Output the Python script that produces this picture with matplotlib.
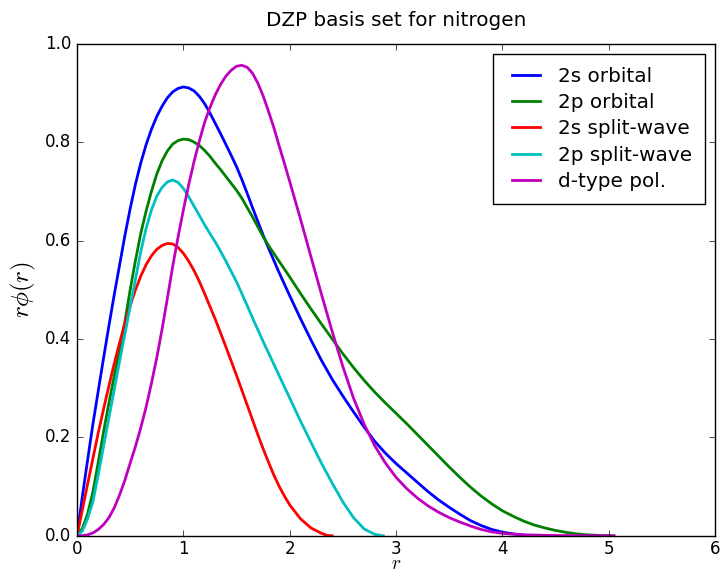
import numpy as np
import matplotlib
matplotlib.use('Agg')
import matplotlib.pyplot as plt

# values (r, r*phi(r))
r_2s = [0.0, 0.05, 0.1, 0.15, 0.2, 0.25, 0.3, 0.35, 0.4, 0.45, 0.5, 0.55, 0.6,
        0.65, 0.7, 0.75, 0.8, 0.85, 0.9, 0.95, 1.0, 1.05, 1.1, 1.15, 1.2, 1.25,
        1.3, 1.35, 1.4, 1.45, 1.5, 1.55, 1.6, 1.65, 1.7, 1.75, 1.8, 1.9, 2.0,
        2.1, 2.2, 2.3, 2.4, 2.5, 2.6, 2.7, 2.8, 2.9, 3.0, 3.1, 3.2, 3.3, 3.4,
        3.5, 3.6, 3.7, 3.8, 3.9, 4.0, 4.1, 4.2, 4.3]
v_2s = [0.0, 0.08, 0.155, 0.228, 0.295, 0.362, 0.427, 0.49, 0.55, 0.61, 0.665,
        0.715, 0.758, 0.795, 0.826, 0.852, 0.873, 0.89, 0.902, 0.909, 0.912,
        0.91, 0.904, 0.893, 0.878, 0.859, 0.838, 0.817, 0.795, 0.773, 0.75,
        0.724, 0.696, 0.667, 0.639, 0.611, 0.585, 0.535, 0.488, 0.442, 0.398,
        0.356, 0.318, 0.284, 0.252, 0.221, 0.192, 0.168, 0.147, 0.128, 0.109,
        0.09, 0.073, 0.058, 0.044, 0.031, 0.021, 0.013, 0.0075, 0.004, 0.0015,
        0.0]

r_2p = [0.0, 0.05, 0.1, 0.15, 0.2, 0.25, 0.3, 0.35, 0.4, 0.45, 0.5, 0.55, 0.6,
        0.65, 0.7, 0.75, 0.8, 0.85, 0.9, 0.95, 1.0, 1.05, 1.1, 1.15, 1.2, 1.25,
        1.3, 1.35, 1.4, 1.45, 1.5, 1.55, 1.6, 1.65, 1.7, 1.75, 1.8, 1.9, 2.0,
        2.1, 2.2, 2.3, 2.4, 2.5, 2.6, 2.7, 2.8, 2.9, 3.0, 3.1, 3.2, 3.3, 3.4,
        3.5, 3.6, 3.7, 3.8, 3.9, 4.0, 4.1, 4.2, 4.3, 4.4, 4.5, 4.6, 4.7, 4.8,
        4.9, 5.0, 5.05]
v_2p = [0.0, 0.015, 0.045, 0.09, 0.15, 0.212, 0.27, 0.325, 0.378, 0.435, 0.50,
        0.56, 0.615, 0.66, 0.70, 0.735, 0.762, 0.782, 0.796, 0.803, 0.806,
        0.805, 0.80, 0.793, 0.783, 0.771, 0.757, 0.744, 0.73, 0.716, 0.702,
        0.686, 0.667, 0.648, 0.628, 0.608, 0.59, 0.558, 0.526, 0.493, 0.461,
        0.43, 0.40, 0.37, 0.342, 0.316, 0.292, 0.27, 0.249, 0.228, 0.206,
        0.184, 0.162, 0.14, 0.119, 0.099, 0.081, 0.065, 0.051, 0.04, 0.03,
        0.022, 0.016, 0.011, 0.007, 0.004, 0.002, 0.001, 0.0003, 0.0]

r_2s_sw = [0.0, 0.05, 0.1, 0.15, 0.2, 0.25, 0.3, 0.35, 0.4, 0.45, 0.5, 0.55,
           0.6, 0.65, 0.7, 0.75, 0.8, 0.85, 0.9, 0.95, 1.0, 1.05, 1.1, 1.15,
           1.2, 1.25, 1.3, 1.35, 1.4, 1.45, 1.5, 1.55, 1.6, 1.65, 1.7, 1.75,
           1.8, 1.85, 1.9, 1.95, 2.0, 2.1, 2.2, 2.3, 2.35, 2.4]
v_2s_sw = [0.0, 0.053, 0.106, 0.158, 0.21, 0.258, 0.305, 0.35, 0.392, 0.432,
           0.468, 0.50, 0.528, 0.551, 0.569, 0.582, 0.59, 0.594, 0.593, 0.586,
           0.574, 0.558, 0.539, 0.517, 0.492, 0.466, 0.44, 0.412, 0.384, 0.355,
           0.326, 0.296, 0.266, 0.236, 0.206, 0.177, 0.15, 0.124, 0.101, 0.081,
           0.063, 0.035, 0.016, 0.005, 0.001, 0.0]

r_2p_sw = [0.0, 0.05, 0.1, 0.15, 0.2, 0.25, 0.3, 0.35, 0.4, 0.45, 0.5, 0.55,
           0.6, 0.65, 0.7, 0.75, 0.8, 0.85, 0.9, 0.95, 1.0, 1.05, 1.1, 1.15,
           1.2, 1.25, 1.3, 1.35, 1.4, 1.45, 1.5, 1.55, 1.6, 1.65, 1.7, 1.75,
           1.8, 1.9, 2.0, 2.1, 2.2, 2.3, 2.4, 2.5, 2.6, 2.7, 2.8, 2.88]
v_2p_sw = [0.0, 0.01, 0.035, 0.07, 0.125, 0.183, 0.24, 0.297, 0.355, 0.41,
           0.466, 0.522, 0.578, 0.625, 0.662, 0.69, 0.708, 0.719, 0.723, 0.718,
           0.706, 0.689, 0.67, 0.651, 0.632, 0.614, 0.597, 0.578, 0.558, 0.537,
           0.516, 0.492, 0.468, 0.443, 0.419, 0.395, 0.372, 0.326, 0.28, 0.234,
           0.19, 0.147, 0.107, 0.069, 0.037, 0.014, 0.003, 0.0]

r_dpol = [0.0, 0.05, 0.1, 0.15, 0.2, 0.25, 0.3, 0.35, 0.4, 0.45, 0.5, 0.55,
          0.6, 0.65, 0.7, 0.75, 0.8, 0.85, 0.9, 0.95, 1.0, 1.05, 1.1, 1.15,
          1.2, 1.25, 1.3, 1.35, 1.4, 1.45, 1.5, 1.55, 1.6, 1.65, 1.7, 1.75,
          1.8, 1.85, 1.9, 1.95, 2.0, 2.1, 2.2, 2.3, 2.4, 2.5, 2.6, 2.7, 2.8,
          2.9, 3.0, 3.1, 3.2, 3.3, 3.4, 3.5, 3.6, 3.7, 3.8, 3.9, 4.0, 4.2, 4.5,
          5.0, 5.05]
v_dpol = [0.0, 0.0005, 0.002, 0.006, 0.013, 0.023, 0.037, 0.057, 0.083, 0.113,
          0.148, 0.182, 0.22, 0.262, 0.31, 0.362, 0.42, 0.483, 0.548, 0.607,
          0.662, 0.713, 0.76, 0.802, 0.84, 0.87, 0.896, 0.917, 0.934, 0.946,
          0.954, 0.956, 0.952, 0.94, 0.92, 0.894, 0.863, 0.83, 0.793, 0.757,
          0.72, 0.645, 0.567, 0.49, 0.415, 0.344, 0.28, 0.227, 0.183, 0.148,
          0.119, 0.096, 0.077, 0.061, 0.048, 0.037, 0.028, 0.02, 0.013, 0.008,
          0.005, 0.002, 0.0007, 0.0001, 0.0]

plt.style.use('classic')
fig = plt.figure(figsize=(7.2, 5.74), dpi=100, facecolor='white')
ax = fig.add_axes([0.107, 0.0665, 0.886, 0.8575])

ax.plot(r_2s, v_2s, 'b', lw=2, label='2s orbital')
ax.plot(r_2p, v_2p, 'g', lw=2, label='2p orbital')
ax.plot(r_2s_sw, v_2s_sw, 'r', lw=2, label='2s split-wave')
ax.plot(r_2p_sw, v_2p_sw, 'c', lw=2, label='2p split-wave')
ax.plot(r_dpol, v_dpol, 'm', lw=2, label='d-type pol.')

ax.set_xlim(0, 6)
ax.set_ylim(0, 1.0)
ax.set_title('DZP basis set for nitrogen', pad=13)
ax.set_xlabel('$r$', fontsize=14, va='bottom')
ax.xaxis.set_label_coords(0.5, -0.0765)
ax.tick_params(axis='x', pad=3)
ax.set_ylabel(r'$r\phi(r)$', fontsize=18)
ax.legend(loc='upper right', labelspacing=0.37, borderpad=0.65,
          handletextpad=0.6)

fig.savefig('out.png', dpi=100, facecolor='white')
